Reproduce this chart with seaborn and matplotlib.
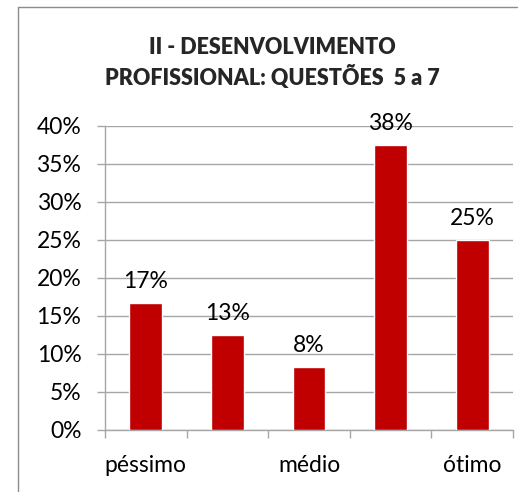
import matplotlib
matplotlib.use("Agg")
import matplotlib.pyplot as plt
import seaborn as sns
import pandas as pd
from matplotlib.lines import Line2D

categories = ["péssimo", "ruim", "médio", "bom", "ótimo"]
tick_labels = ["péssimo", "", "médio", "", "ótimo"]
values = [16.7, 12.5, 8.3, 37.5, 25.0]
value_labels = ["17%", "13%", "8%", "38%", "25%"]
title = "II - DESENVOLVIMENTO\nPROFISSIONAL: QUESTÕES  5 a 7"

sns.set_theme(style="white")
plt.rcParams['font.family'] = ['Lato', 'DejaVu Sans']

W, H = 526, 492
fig = plt.figure(figsize=(W / 100, H / 100), dpi=100)
ax = fig.add_axes([105 / W, 1 - 430 / H, (513 - 105) / W, (430 - 126) / H])

df = pd.DataFrame({"cat": categories, "val": values})
sns.barplot(data=df, x="cat", y="val", color="#c00000", saturation=1,
            width=0.4, ax=ax, zorder=3)

fs = 16.5
ax.set_ylim(0, 40)
ax.set_xlim(-0.5, len(categories) - 0.5)
ax.set_yticks(range(0, 41, 5))
ax.set_yticklabels([f"{t}%" for t in range(0, 41, 5)], fontsize=fs, color="black")
ax.set_xticks(range(len(categories)))
ax.set_xticklabels(tick_labels, fontsize=fs, color="black")
ax.set_xlabel("")
ax.set_ylabel("")
ax.grid(axis="y", color="#a6a6a6", linewidth=1, zorder=0)
ax.grid(axis="x", visible=False)
for s in ["top", "right"]:
    ax.spines[s].set_visible(False)
for s in ["left", "bottom"]:
    ax.spines[s].set_color("#a6a6a6")
    ax.spines[s].set_linewidth(1)
ax.tick_params(axis="y", length=6, color="#a6a6a6", width=1, pad=11, left=True)
ax.tick_params(axis="x", length=0, pad=18)
# minor ticks at category boundaries
ax.set_xticks([i - 0.5 for i in range(len(categories) + 1)], minor=True)
ax.tick_params(axis="x", which="minor", length=6, color="#a6a6a6", width=1, bottom=True)

for i, (v, lab) in enumerate(zip(values, value_labels)):
    ax.annotate(lab, (i, v), xytext=(0, 8), textcoords="offset points",
                ha="center", va="bottom", fontsize=fs, color="black")

fig.text(272 / W, 1 - 63 / H, title, ha="center", va="center",
         fontsize=15.5, fontweight="heavy", linespacing=1.35)

# chart frame (left and top edges)
fig.add_artist(Line2D([18 / W, 18 / W], [0, 1 - 7 / H], transform=fig.transFigure,
                      color="#8c8c8c", linewidth=1))
fig.add_artist(Line2D([18 / W, 517 / W], [1 - 7 / H, 1 - 7 / H], transform=fig.transFigure,
                      color="#8c8c8c", linewidth=1))
fig.text(2 / W, 1 + 5 / H, "o", fontsize=12, color="black", va="center", ha="left")

fig.savefig("out.png", dpi=100)
